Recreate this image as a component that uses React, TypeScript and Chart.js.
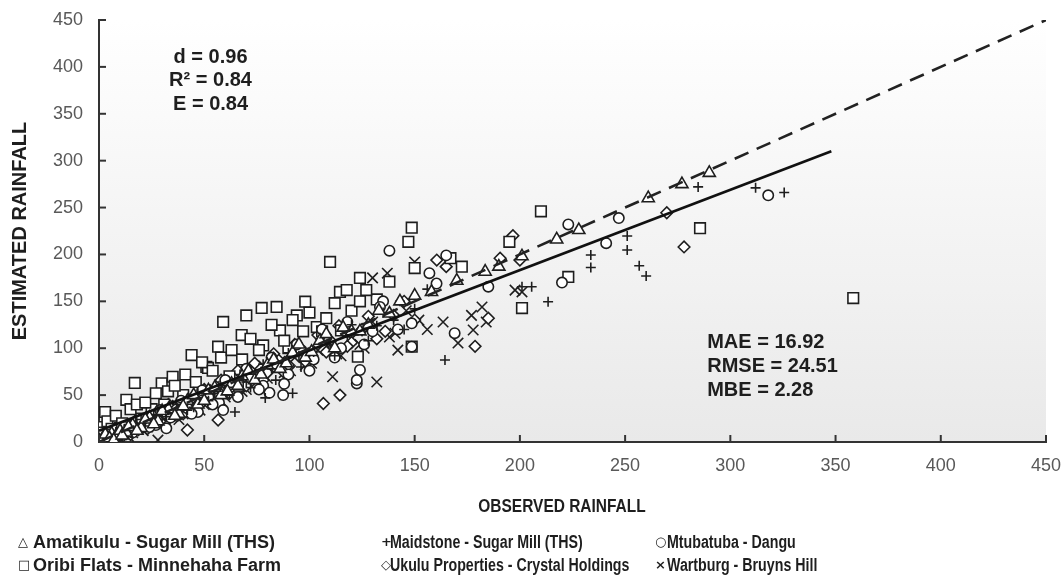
import React, { useEffect, useRef } from "react";
import { Chart, registerables } from "chart.js";

Chart.register(...registerables);

// ---- Data (observed, estimated) ----
const amatikulu: number[][] = [
  [0, 2], [2, 5], [4, 3], [6, 9], [8, 6], [10, 12], [13, 10], [16, 18], [20, 15], [24, 26],
  [28, 22], [33, 35], [38, 30], [42, 44], [47, 40], [52, 55], [58, 50], [63, 62], [68, 70], [74, 66],
  [80, 82], [86, 78], [92, 95], [98, 90], [105, 108], [112, 100], [120, 118], [128, 125], [138, 137],
  [1, 0], [3, 8], [5, 4], [7, 2], [11, 7], [14, 16], [18, 12], [22, 24], [26, 19], [30, 33],
  [36, 28], [40, 38], [45, 50], [50, 44], [55, 58], [61, 54], [66, 60], [71, 76], [77, 72], [83, 88],
  [89, 84], [95, 104], [101, 96], [108, 115], [116, 122], [124, 118], [133, 140], [150, 156], [158, 160], [170, 172],
  [143, 150], [183.5, 181.6], [190, 187], [201, 198], [217.5, 216], [228, 226], [261, 260], [277, 275], [290, 287],
];

const maidstone: number[][] = [
  [1, 0], [3, 4], [5, 2], [7, 8], [9, 5], [12, 14], [15, 10], [18, 20], [22, 17], [26, 28],
  [30, 24], [35, 30], [40, 42], [45, 37], [50, 47], [55, 52], [60, 55], [64.6, 32], [70, 64], [76, 70],
  [79, 47], [82, 78], [88, 84], [92, 52], [95, 92], [102, 96], [110, 104], [118, 112], [125, 118], [132, 124],
  [0, 3], [2, 7], [4, 0], [6, 5], [8, 11], [11, 8], [14, 17], [17, 13], [20, 24], [24, 21],
  [28, 33], [32, 27], [37, 40], [42, 34], [47, 52], [52, 44], [57, 60], [62, 50], [67, 72], [72, 58],
  [78, 83], [84, 66], [90, 95], [96, 80], [105, 110], [112, 92], [120, 125], [128, 108], [135, 138], [145, 120],
  [140, 130], [143, 150], [150, 142], [156, 163], [164.4, 87.4], [201, 165.6], [205.6, 165.6], [213.4, 149.6],
  [233.7, 199.4], [233.7, 186], [251, 219.6], [251, 204.7], [256.7, 188], [260, 177], [284.7, 272], [312, 271], [325.6, 266],
];

const mtubatuba: number[][] = [
  [2, 1], [4, 6], [7, 3], [10, 9], [14, 12], [18, 14], [22, 20], [27, 18], [32, 14.6], [32, 30],
  [37, 28], [42, 36], [47, 32], [52, 48], [57, 42], [59, 34], [62, 58], [72, 68], [78, 60], [81, 52.5],
  [84, 80], [87.5, 50], [90, 72], [96, 98], [102, 88], [108, 112], [115, 100], [122.5, 62.5], [122.5, 66], [124, 76.8],
  [0, 2], [3, 0], [5, 8], [8, 5], [12, 16], [16, 10], [20, 24], [24, 16], [29, 34], [34, 26],
  [39, 44], [44, 30], [49, 55], [54, 40], [60, 66], [66, 48], [70, 78], [76, 56], [82, 90], [88, 62],
  [94, 104], [100, 76], [106, 120], [112, 90], [118, 128], [126, 104], [135, 150], [142, 120],
  [130, 118], [133.5, 144], [138, 204], [148.6, 126.6], [148.6, 101.6], [157, 180], [160.4, 169], [165, 199],
  [169, 116], [185, 165.6], [220, 170], [223, 232], [241, 212], [247, 238.8], [318, 263],
];

const oribi: number[][] = [
  [0, 16], [1, 5], [2.9, 32], [5, 8], [10, 15], [13, 45], [17, 63], [20, 25], [25, 35], [29.8, 62.6],
  [32.8, 54], [35, 69.6], [40, 50], [44, 92.7], [51, 80], [51.8, 79], [56.6, 101.6], [59, 128], [62, 70], [66, 60],
  [67.8, 114], [70, 135], [77.3, 143], [78, 103], [84.4, 144], [86, 119], [90, 100], [94, 135], [98, 149.6], [103.5, 122.6],
  [0, 3], [2, 10], [4, 22], [6, 14], [8, 28], [11, 20], [15, 35], [18, 40], [22, 42], [27, 52],
  [31, 40], [36, 60], [41, 72], [46, 64], [49, 85], [54, 76], [58, 90], [63, 98], [68, 88], [72, 110],
  [76, 98], [82, 125], [88, 108], [92, 130], [97, 118], [100, 138], [108, 132], [112, 148], [120, 140], [132, 152],
  [106, 118], [109.8, 192], [114.5, 160], [115, 119], [117.7, 162], [123, 91], [124, 175], [124, 150], [127, 162], [138, 171],
  [147, 213.5], [148.6, 228.5], [148.6, 101.6], [150, 185.5], [167, 196], [172.4, 187], [195, 213.5], [201, 142.8],
  [210, 246], [223, 176], [285.6, 228], [358.4, 153.5],
];

const ukulu: number[][] = [
  [1, 3], [4, 1], [6, 8], [9, 4], [12, 13], [15, 8], [19, 18], [23, 14], [27, 26], [31, 20],
  [35, 38], [40, 30], [42, 12.8], [44, 46], [48, 40], [52, 50], [56.6, 23.4], [60, 62], [64, 54], [68, 72],
  [72, 64], [76, 80], [80, 74], [85, 88], [90, 82], [95, 100], [100, 92], [106.6, 41], [110, 108], [114.5, 50],
  [0, 1], [2, 6], [3, 3], [5, 10], [7, 5], [10, 14], [13, 9], [17, 22], [21, 16], [25, 30],
  [29, 22], [33, 40], [37, 32], [41, 46], [46, 36], [50, 56], [54, 44], [58, 66], [62, 52], [66, 76],
  [70, 60], [74, 84], [78, 66], [83, 94], [88, 74], [93, 104], [98, 86], [104, 114], [108, 96], [114, 124],
  [120, 106], [128, 134], [136, 118], [145, 150], [150, 130],
  [118, 102], [125, 120], [132, 110], [140, 135], [160.5, 194], [165, 187], [178.7, 102], [185, 132], [190.6, 196],
  [196.7, 220], [200, 194], [269.8, 244.5], [278, 208],
];

const wartburg: number[][] = [
  [1, 2], [3, 0], [5, 6], [8, 3], [11, 10], [14, 6], [17, 16], [21, 12], [25, 22], [28, 2],
  [33, 28], [38, 24], [43, 40], [48, 34], [53, 50], [58, 44], [63, 60], [68, 54], [73, 70], [78, 62],
  [83, 80], [88, 74], [93, 90], [98, 82], [104, 98], [111, 69.6], [115, 92], [120, 110], [126, 100], [130, 175],
  [0, 0], [2, 4], [4, 2], [6, 9], [9, 6], [12, 14], [16, 10], [19, 20], [23, 16], [27, 28],
  [31, 22], [35, 36], [40, 30], [45, 46], [50, 40], [55, 56], [60, 48], [65, 66], [70, 56], [75, 76],
  [80, 68], [86, 86], [91, 76], [96, 96], [101, 84], [107, 106], [113, 94], [118, 118], [124, 104], [130, 128],
  [138, 112], [146, 140], [152, 130],
  [132, 64], [137, 180], [140.7, 116], [142, 98], [150, 192], [156, 120], [163.5, 128], [170.6, 105.5], [177, 135],
  [177.8, 119.4], [182, 144], [184, 128], [197.7, 162], [201, 160],
];

const oneToOneLine: number[][] = [[0, 0], [450, 450]];
const regressionLine: number[][] = [[0, 12], [348, 310]];

const axisTicks = [0, 50, 100, 150, 200, 250, 300, 350, 400, 450];

const statsLeft = ["d = 0.96", "R² = 0.84", "E = 0.84"];
const statsRight = ["MAE = 16.92", "RMSE = 24.51", "MBE = 2.28"];
const xTitle = "OBSERVED RAINFALL";
const yTitle = "ESTIMATED RAINFALL";

const seriesNames = [
  "Amatikulu - Sugar Mill (THS)",
  "Maidstone - Sugar Mill (THS)",
  "Mtubatuba - Dangu",
  "Oribi Flats - Minnehaha Farm",
  "Ukulu Properties - Crystal Holdings",
  "Wartburg - Bruyns Hill",
];
const legendSymbols = ["△", "+", "○", "□", "◇", "×"];

const toPts = (a: number[][]) => a.map(([x, y]) => ({ x, y }));

const INK = "#1e1e1e";
const FONT = "'Liberation Sans', Arial, sans-serif";

const bgPlugin = {
  id: "bgGrad",
  beforeDraw(chart: any) {
    const { ctx, chartArea } = chart;
    if (!chartArea) return;
    const g = ctx.createLinearGradient(0, chartArea.top, 0, chartArea.bottom);
    g.addColorStop(0, "#ffffff");
    g.addColorStop(1, "#e9e9e9");
    ctx.save();
    ctx.fillStyle = g;
    ctx.fillRect(chartArea.left, chartArea.top, chartArea.right - chartArea.left, chartArea.bottom - chartArea.top);
    ctx.restore();
  },
};

const innerTicksPlugin = {
  id: "innerTicks",
  afterDraw(chart: any) {
    const { ctx, chartArea, scales } = chart;
    ctx.save();
    ctx.strokeStyle = "#333333";
    ctx.lineWidth = 2;
    const len = 7;
    axisTicks.forEach((v) => {
      const px = scales.x.getPixelForValue(v);
      ctx.beginPath();
      ctx.moveTo(px, chartArea.bottom);
      ctx.lineTo(px, chartArea.bottom - len);
      ctx.stroke();
      const py = scales.y.getPixelForValue(v);
      ctx.beginPath();
      ctx.moveTo(chartArea.left, py);
      ctx.lineTo(chartArea.left + len, py);
      ctx.stroke();
    });
    ctx.restore();
  },
};

const textPlugin = {
  id: "texts",
  afterDraw(chart: any) {
    const { ctx, scales, chartArea } = chart;
    ctx.save();
    ctx.fillStyle = INK;
    ctx.font = `bold 20px ${FONT}`;
    ctx.textBaseline = "middle";
    ctx.textAlign = "center";
    const lx = scales.x.getPixelForValue(53);
    [410, 385, 360].forEach((yv, i) => {
      ctx.fillText(statsLeft[i], lx, scales.y.getPixelForValue(yv));
    });
    ctx.textAlign = "left";
    const rx = scales.x.getPixelForValue(289);
    [106, 81, 55].forEach((yv, i) => {
      ctx.fillText(statsRight[i], rx, scales.y.getPixelForValue(yv));
    });
    // x axis title (slightly condensed like the reference)
    ctx.save();
    ctx.translate(562, chartArea.bottom + 65);
    ctx.scale(0.86, 1);
    ctx.font = `bold 18px ${FONT}`;
    ctx.textAlign = "center";
    ctx.fillText(xTitle, 0, 0);
    ctx.restore();
    ctx.restore();
  },
};

function ChartCanvas() {
  const ref = useRef<HTMLCanvasElement | null>(null);
  useEffect(() => {
    if (!ref.current) return;
    const mk = (label: string, data: number[][], pointStyle: string, radius: number) => ({
      label,
      data: toPts(data),
      pointStyle,
      pointRadius: radius,
      pointHoverRadius: radius,
      pointBorderWidth: 1.6,
      pointBorderColor: INK,
      pointBackgroundColor: "#ffffff",
      showLine: false,
      order: 2,
    });
    const chart = new Chart(ref.current, {
      type: "scatter",
      data: {
        datasets: [
          {
            label: "1:1",
            data: toPts(oneToOneLine),
            showLine: true,
            borderColor: "#222222",
            borderWidth: 2.6,
            borderDash: [15, 9],
            pointRadius: 0,
            order: 0,
          } as any,
          {
            label: "fit",
            data: toPts(regressionLine),
            showLine: true,
            borderColor: "#111111",
            borderWidth: 2.6,
            pointRadius: 0,
            order: 0,
          } as any,
          mk(seriesNames[0], amatikulu, "triangle", 7),
          mk(seriesNames[1], maidstone, "cross", 5),
          mk(seriesNames[2], mtubatuba, "circle", 5.2),
          mk(seriesNames[3], oribi, "rect", 7.5),
          mk(seriesNames[4], ukulu, "rectRot", 5.8),
          mk(seriesNames[5], wartburg, "crossRot", 7.4),
        ],
      },
      options: {
        animation: false,
        responsive: false,
        devicePixelRatio: 1,
        layout: { padding: { top: 20, right: 17, left: 0, bottom: 0 } },
        plugins: { legend: { display: false }, tooltip: { enabled: false } },
        scales: {
          x: {
            type: "linear",
            min: 0,
            max: 450,
            afterBuildTicks: (s: any) => {
              s.ticks = axisTicks.map((v) => ({ value: v }));
            },
            afterFit: (s: any) => {
              s.height = 133;
              s.paddingRight = 0;
              s.paddingLeft = 0;
            },
            ticks: { color: "#595959", font: { family: FONT, size: 18 }, padding: 5, maxRotation: 0 },
            grid: { display: false },
            border: { display: true, color: "#333333", width: 2 },
            title: { display: false },
          },
          y: {
            type: "linear",
            min: 0,
            max: 450,
            afterBuildTicks: (s: any) => {
              s.ticks = axisTicks.map((v) => ({ value: v }));
            },
            afterFit: (s: any) => {
              s.width = 99;
              s.paddingTop = 0;
              s.paddingBottom = 0;
            },
            ticks: { color: "#595959", font: { family: FONT, size: 18 }, padding: 8 },
            grid: { display: false },
            border: { display: true, color: "#333333", width: 2 },
            title: {
              display: true,
              text: yTitle,
              color: INK,
              font: { family: FONT, size: 20, weight: "bold" },
              padding: { top: 8, bottom: 0 },
            },
          },
        },
      } as any,
      plugins: [bgPlugin, innerTicksPlugin, textPlugin],
    });
    return () => chart.destroy();
  }, []);
  return <canvas ref={ref} width={1063} height={575} style={{ position: "absolute", left: 0, top: 0 }} />;
}

const legendLayout = [
  { sx: 18, tx: 33, y: 532, sc: 1.0 },
  { sx: 381, tx: 390, y: 532, sc: 0.79 },
  { sx: 655, tx: 667, y: 532, sc: 0.79 },
  { sx: 18, tx: 33, y: 555, sc: 1.0 },
  { sx: 381, tx: 390, y: 555, sc: 0.79 },
  { sx: 655, tx: 667, y: 555, sc: 0.79 },
];

export default function App() {
  return (
    <div style={{ position: "absolute", left: 0, top: 0, width: 1063, height: 575, background: "#ffffff", overflow: "hidden" }}>
      <ChartCanvas />
      {legendLayout.map((p, i) => (
        <React.Fragment key={i}>
          <span
            style={{
              position: "absolute",
              left: p.sx,
              top: p.y,
              height: 20,
              lineHeight: "20px",
              fontFamily: "'DejaVu Sans', sans-serif",
              fontSize: 13,
              fontWeight: "bold",
              color: INK,
            }}
          >
            {legendSymbols[i]}
          </span>
          <span
            style={{
              position: "absolute",
              left: p.tx,
              top: p.y,
              height: 20,
              lineHeight: "20px",
              fontFamily: FONT,
              fontSize: 18,
              fontWeight: "bold",
              color: INK,
              whiteSpace: "nowrap",
              transform: `scaleX(${p.sc})`,
              transformOrigin: "left center",
            }}
          >
            {seriesNames[i]}
          </span>
        </React.Fragment>
      ))}
    </div>
  );
}
